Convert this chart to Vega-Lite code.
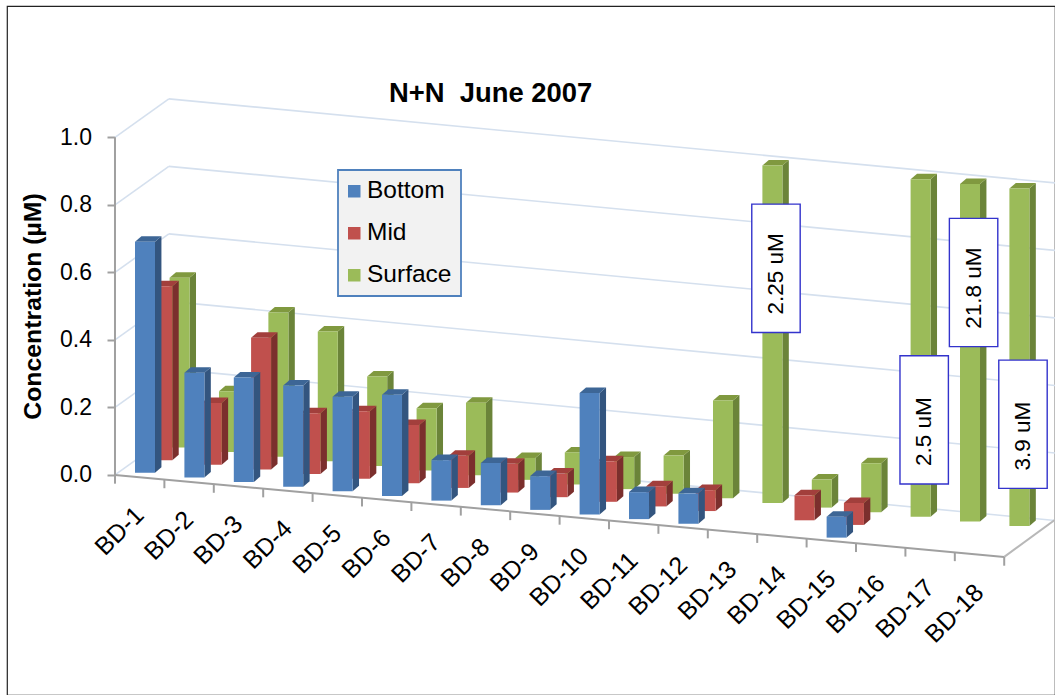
{
"$schema":"https://vega.github.io/schema/vega-lite/v6.json",
"width":1048,"height":689,"autosize":"none","padding":{"left":7,"top":6,"right":0,"bottom":0},
"background":"white",
"view":{"stroke":"#222222","strokeWidth":1.2},
"config":{"font":"Liberation Sans","legend":{"strokeWidth":1.8}},
"title":{"text":"N+N\u00a0\u00a0June 2007","anchor":"start","frame":"group","dx":382,"dy":101.5,"offset":0,"fontSize":27.4,"fontWeight":"bold","font":"Liberation Sans","color":"black"},
"datasets":{
"bars":[
{"station":"BD-1","series":"Bottom","value":0.685},{"station":"BD-2","series":"Bottom","value":0.31},{"station":"BD-3","series":"Bottom","value":0.31},{"station":"BD-4","series":"Bottom","value":0.30},{"station":"BD-5","series":"Bottom","value":0.28},{"station":"BD-6","series":"Bottom","value":0.30},{"station":"BD-7","series":"Bottom","value":0.12},{"station":"BD-8","series":"Bottom","value":0.125},{"station":"BD-9","series":"Bottom","value":0.10},{"station":"BD-10","series":"Bottom","value":0.36},{"station":"BD-11","series":"Bottom","value":0.08},{"station":"BD-12","series":"Bottom","value":0.09},{"station":"BD-15","series":"Bottom","value":0.062},
{"station":"BD-1","series":"Mid","value":0.515},{"station":"BD-2","series":"Mid","value":0.183},{"station":"BD-3","series":"Mid","value":0.39},{"station":"BD-4","series":"Mid","value":0.18},{"station":"BD-5","series":"Mid","value":0.20},{"station":"BD-6","series":"Mid","value":0.173},{"station":"BD-7","series":"Mid","value":0.095},{"station":"BD-8","series":"Mid","value":0.085},{"station":"BD-9","series":"Mid","value":0.07},{"station":"BD-10","series":"Mid","value":0.12},{"station":"BD-11","series":"Mid","value":0.06},{"station":"BD-12","series":"Mid","value":0.062},{"station":"BD-14","series":"Mid","value":0.074},{"station":"BD-15","series":"Mid","value":0.065},
{"station":"BD-1","series":"Surface","value":0.503},{"station":"BD-2","series":"Surface","value":0.18},{"station":"BD-3","series":"Surface","value":0.427},{"station":"BD-4","series":"Surface","value":0.385},{"station":"BD-5","series":"Surface","value":0.265},{"station":"BD-6","series":"Surface","value":0.185},{"station":"BD-7","series":"Surface","value":0.215},{"station":"BD-8","series":"Surface","value":0.065},{"station":"BD-9","series":"Surface","value":0.095},{"station":"BD-10","series":"Surface","value":0.095},{"station":"BD-11","series":"Surface","value":0.113},{"station":"BD-12","series":"Surface","value":0.29},{"station":"BD-13","series":"Surface","value":2.25},{"station":"BD-14","series":"Surface","value":0.083},{"station":"BD-15","series":"Surface","value":0.145},{"station":"BD-16","series":"Surface","value":2.5},{"station":"BD-17","series":"Surface","value":21.8},{"station":"BD-18","series":"Surface","value":3.9}
],
"stations":[{"station":"BD-1"},{"station":"BD-2"},{"station":"BD-3"},{"station":"BD-4"},{"station":"BD-5"},{"station":"BD-6"},{"station":"BD-7"},{"station":"BD-8"},{"station":"BD-9"},{"station":"BD-10"},{"station":"BD-11"},{"station":"BD-12"},{"station":"BD-13"},{"station":"BD-14"},{"station":"BD-15"},{"station":"BD-16"},{"station":"BD-17"},{"station":"BD-18"}],
"gridlevels":[{"level":0},{"level":0.2},{"level":0.4},{"level":0.6},{"level":0.8},{"level":1.0}],
"boundaries":[{"k":0},{"k":1},{"k":2},{"k":3},{"k":4},{"k":5},{"k":6},{"k":7},{"k":8},{"k":9},{"k":10},{"k":11},{"k":12},{"k":13},{"k":14},{"k":15},{"k":16},{"k":17},{"k":18}],
"notes":[{"station":"BD-13","label":"2.25 uM","level":0.612},{"station":"BD-16","label":"2.5 uM","level":0.163},{"station":"BD-17","label":"21.8 uM","level":0.570},{"station":"BD-18","label":"3.9 uM","level":0.150}]
},
"layer":[
{"data":{"name":"gridlevels"},"transform":[{"calculate":"datum.level+0.114","as":"backY"}],
 "mark":{"type":"rule","color":"#d5e0ee","strokeWidth":1.6},
 "encoding":{
  "x":{"datum":0,"type":"quantitative","scale":{"domain":[-2.186,19.028],"nice":false,"zero":false},"axis":null},
  "x2":{"datum":1.09},
  "y":{"field":"level","type":"quantitative","scale":{"domain":[-0.652,1.389],"nice":false,"zero":false},
   "axis":{"values":[0,0.2,0.4,0.6,0.8,1],"format":".1f","domain":false,"grid":false,"offset":-108,"tickColor":"#a0a0a0","tickWidth":2,"tickSize":8,"labelFontSize":23,"labelColor":"black","labelPadding":15.5,"labelFont":"Liberation Sans","title":"Concentration (µM)","titleFontSize":24.8,"titleFontWeight":"bold","titleColor":"black","titleFont":"Liberation Sans","titleX":-82,"titleY":300,"titleAngle":270,"titleAlign":"center","titleBaseline":"middle"}},
  "y2":{"field":"backY"}}},
{"data":{"name":"gridlevels"},"transform":[{"calculate":"datum.level+0.114","as":"backY"},{"calculate":"datum.backY-0.249","as":"endY"}],
 "mark":{"type":"rule","color":"#d5e0ee","strokeWidth":1.6},
 "encoding":{"x":{"datum":1.09,"type":"quantitative"},"x2":{"datum":19.028},"y":{"field":"backY","type":"quantitative"},"y2":{"field":"endY"}}},
{"mark":{"type":"rule","color":"#a0a0a0","strokeWidth":2},"data":{"values":[{"a":0,"b":1}]},
 "encoding":{"x":{"datum":0,"type":"quantitative"},"y":{"field":"a","type":"quantitative"},"y2":{"field":"b"}}},
{"mark":{"type":"rule","color":"#a0a0a0","strokeWidth":2},"data":{"values":[{"a":0,"b":-0.243}]},
 "encoding":{"x":{"datum":0,"type":"quantitative"},"x2":{"datum":18},"y":{"field":"a","type":"quantitative"},"y2":{"field":"b"}}},
{"mark":{"type":"rule","color":"#b8b8b8","strokeWidth":2},"data":{"values":[{"a":-0.243,"b":-0.133}]},
 "encoding":{"x":{"datum":18,"type":"quantitative"},"x2":{"datum":19.028},"y":{"field":"a","type":"quantitative"},"y2":{"field":"b"}}},
{"data":{"name":"boundaries"},"transform":[{"calculate":"-0.0135*datum.k","as":"f"},{"calculate":"datum.f-0.026","as":"f2"}],
 "mark":{"type":"rule","color":"#a0a0a0","strokeWidth":2},
 "encoding":{"x":{"field":"k","type":"quantitative"},"y":{"field":"f","type":"quantitative"},"y2":{"field":"f2"}}},
{"data":{"name":"stations"},"transform":[{"calculate":"toNumber(replace(datum.station,'BD-',''))-1","as":"idx"},{"calculate":"datum.idx+0.5","as":"cx"},{"calculate":"-0.0135*datum.cx-0.10","as":"ly"}],
 "mark":{"type":"text","align":"right","baseline":"middle","angle":315,"fontSize":25,"font":"Liberation Sans","color":"black"},
 "encoding":{"x":{"field":"cx","type":"quantitative"},"y":{"field":"ly","type":"quantitative"},"text":{"field":"station"}}},
{"data":{"name":"bars"},
 "transform":[{"filter":"datum.series==='Surface'"},{"calculate":"toNumber(replace(datum.station,'BD-',''))-1","as":"idx"},{"calculate":"indexof(['Bottom','Mid','Surface'],datum.series)","as":"s"},{"calculate":"min(datum.value,1)","as":"shown"},{"calculate":"datum.idx+0.405+datum.s*0.35","as":"xl"},{"calculate":"datum.xl+0.405","as":"xr"},{"calculate":"-0.0137*datum.idx+0.006+datum.s*0.0376","as":"base"},{"calculate":"datum.base+datum.shown","as":"top"}],
 "layer":[
 {"transform":[{"calculate":"[0,1]","as":"t"},{"flatten":["t"]},{"calculate":"datum.xr+datum.t*0.13","as":"px"},{"calculate":"datum.top+datum.t*0.0163","as":"py"},{"calculate":"datum.base+datum.t*0.0163","as":"py2"}],
  "mark":{"type":"area","color":"#6b8439","orient":"vertical"},
  "encoding":{"x":{"field":"px","type":"quantitative"},"y":{"field":"py","type":"quantitative","stack":null},"y2":{"field":"py2"},"detail":{"field":"station"}}},
 {"transform":[{"calculate":"[0,1]","as":"t"},{"flatten":["t"]},{"calculate":"datum.xl+datum.t*0.13","as":"px"},{"calculate":"datum.xr+datum.t*0.13","as":"px2"},{"calculate":"datum.top+datum.t*0.0163","as":"py"}],
  "mark":{"type":"area","color":"#80993f","orient":"horizontal"},
  "encoding":{"x":{"field":"px","type":"quantitative","stack":null},"x2":{"field":"px2"},"y":{"field":"py","type":"quantitative"},"detail":{"field":"station"}}},
 {"mark":{"type":"rect"},
  "encoding":{"x":{"field":"xl","type":"quantitative"},"x2":{"field":"xr"},"y":{"field":"base","type":"quantitative"},"y2":{"field":"top"},
   "color":{"field":"series","type":"nominal","scale":{"domain":["Bottom","Mid","Surface"],"range":["#4f81bd","#c0504d","#9bbb59"]},
    "legend":{"title":null,"orient":"none","legendX":331,"legendY":164,"fillColor":"#f2f2f2","strokeColor":"#4f81bd","padding":9,"symbolType":"square","symbolSize":156,"symbolStrokeWidth":0,"symbolOffset":-5,"labelFontSize":24.5,"labelFont":"Liberation Sans","labelColor":"black","labelOffset":0.5,"rowPadding":17}}}}
 ]},
{"data":{"name":"bars"},
 "transform":[{"filter":"datum.series==='Mid'"},{"calculate":"toNumber(replace(datum.station,'BD-',''))-1","as":"idx"},{"calculate":"indexof(['Bottom','Mid','Surface'],datum.series)","as":"s"},{"calculate":"min(datum.value,1)","as":"shown"},{"calculate":"datum.idx+0.405+datum.s*0.35","as":"xl"},{"calculate":"datum.xl+0.405","as":"xr"},{"calculate":"-0.0137*datum.idx+0.006+datum.s*0.0376","as":"base"},{"calculate":"datum.base+datum.shown","as":"top"}],
 "layer":[
 {"transform":[{"calculate":"[0,1]","as":"t"},{"flatten":["t"]},{"calculate":"datum.xr+datum.t*0.13","as":"px"},{"calculate":"datum.top+datum.t*0.0163","as":"py"},{"calculate":"datum.base+datum.t*0.0163","as":"py2"}],
  "mark":{"type":"area","color":"#7b2f2d","orient":"vertical"},
  "encoding":{"x":{"field":"px","type":"quantitative"},"y":{"field":"py","type":"quantitative","stack":null},"y2":{"field":"py2"},"detail":{"field":"station"}}},
 {"transform":[{"calculate":"[0,1]","as":"t"},{"flatten":["t"]},{"calculate":"datum.xl+datum.t*0.13","as":"px"},{"calculate":"datum.xr+datum.t*0.13","as":"px2"},{"calculate":"datum.top+datum.t*0.0163","as":"py"}],
  "mark":{"type":"area","color":"#a23f3c","orient":"horizontal"},
  "encoding":{"x":{"field":"px","type":"quantitative","stack":null},"x2":{"field":"px2"},"y":{"field":"py","type":"quantitative"},"detail":{"field":"station"}}},
 {"mark":{"type":"rect"},
  "encoding":{"x":{"field":"xl","type":"quantitative"},"x2":{"field":"xr"},"y":{"field":"base","type":"quantitative"},"y2":{"field":"top"},
   "color":{"field":"series","type":"nominal"}}}
 ]},
{"data":{"name":"bars"},
 "transform":[{"filter":"datum.series==='Bottom'"},{"calculate":"toNumber(replace(datum.station,'BD-',''))-1","as":"idx"},{"calculate":"indexof(['Bottom','Mid','Surface'],datum.series)","as":"s"},{"calculate":"min(datum.value,1)","as":"shown"},{"calculate":"datum.idx+0.405+datum.s*0.35","as":"xl"},{"calculate":"datum.xl+0.405","as":"xr"},{"calculate":"-0.0137*datum.idx+0.006+datum.s*0.0376","as":"base"},{"calculate":"datum.base+datum.shown","as":"top"}],
 "layer":[
 {"transform":[{"calculate":"[0,1]","as":"t"},{"flatten":["t"]},{"calculate":"datum.xr+datum.t*0.13","as":"px"},{"calculate":"datum.top+datum.t*0.0163","as":"py"},{"calculate":"datum.base+datum.t*0.0163","as":"py2"}],
  "mark":{"type":"area","color":"#33557f","orient":"vertical"},
  "encoding":{"x":{"field":"px","type":"quantitative"},"y":{"field":"py","type":"quantitative","stack":null},"y2":{"field":"py2"},"detail":{"field":"station"}}},
 {"transform":[{"calculate":"[0,1]","as":"t"},{"flatten":["t"]},{"calculate":"datum.xl+datum.t*0.13","as":"px"},{"calculate":"datum.xr+datum.t*0.13","as":"px2"},{"calculate":"datum.top+datum.t*0.0163","as":"py"}],
  "mark":{"type":"area","color":"#3d6696","orient":"horizontal"},
  "encoding":{"x":{"field":"px","type":"quantitative","stack":null},"x2":{"field":"px2"},"y":{"field":"py","type":"quantitative"},"detail":{"field":"station"}}},
 {"mark":{"type":"rect"},
  "encoding":{"x":{"field":"xl","type":"quantitative"},"x2":{"field":"xr"},"y":{"field":"base","type":"quantitative"},"y2":{"field":"top"},
   "color":{"field":"series","type":"nominal"}}}
 ]},
{"data":{"name":"notes"},
 "transform":[{"calculate":"toNumber(replace(datum.station,'BD-',''))-1","as":"idx"},{"calculate":"datum.idx+1.38","as":"cx"},{"calculate":"datum.cx-0.49","as":"x1"},{"calculate":"datum.cx+0.49","as":"x2v"},{"calculate":"datum.level-0.19","as":"y1"},{"calculate":"datum.level+0.19","as":"y2v"},{"calculate":"datum.y1+0.053","as":"ty"}],
 "layer":[
 {"mark":{"type":"rect","fill":"white","stroke":"#3333cc","strokeWidth":1.4},
  "encoding":{"x":{"field":"x1","type":"quantitative"},"x2":{"field":"x2v"},"y":{"field":"y1","type":"quantitative"},"y2":{"field":"y2v"}}},
 {"mark":{"type":"text","angle":270,"align":"left","baseline":"middle","fontSize":22.5,"font":"Liberation Sans","color":"black"},
  "encoding":{"x":{"field":"cx","type":"quantitative"},"y":{"field":"ty","type":"quantitative"},"text":{"field":"label"}}}
 ]}
]
}
